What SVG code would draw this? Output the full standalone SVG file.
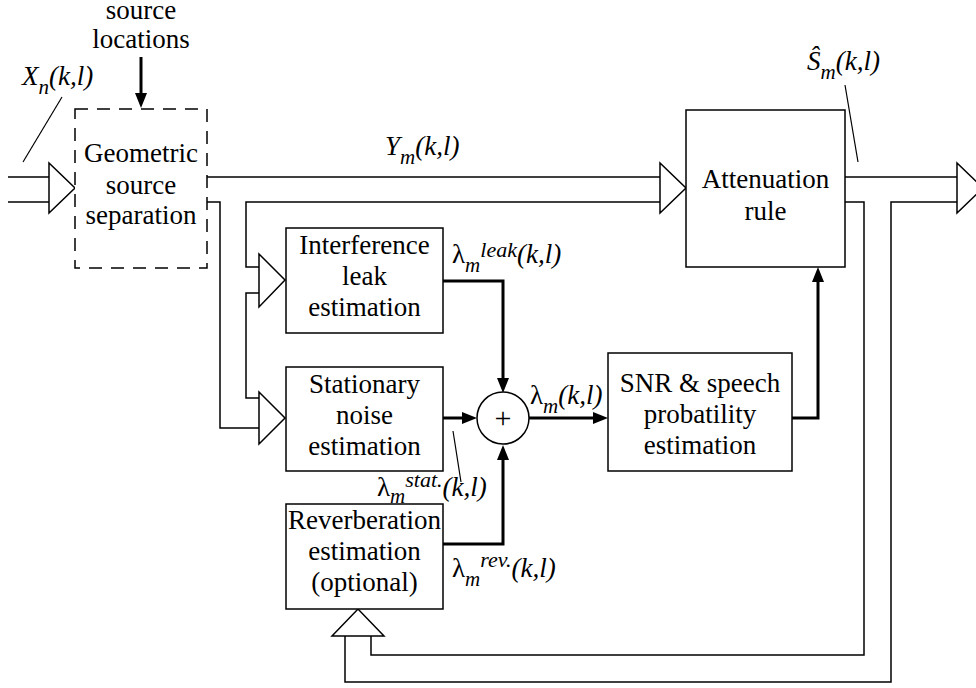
<svg xmlns="http://www.w3.org/2000/svg" width="976" height="688" viewBox="0 0 976 688" font-family="Liberation Serif, serif">
<defs>
  <marker id="ah" markerUnits="userSpaceOnUse" markerWidth="15" markerHeight="12" refX="3" refY="6" orient="auto">
    <path d="M0,0 L15,6 L0,12 z" fill="#000"/>
  </marker>
</defs>
<rect width="976" height="688" fill="#fff"/>

<g id="connectors" fill="none" stroke="#000" stroke-width="1.5">
  <path d="M8,177 H49 M8,202 H49"/>
  <path d="M207,177 H660"/>
  <path d="M207,202 H220 V428 H259"/>
  <path d="M660,202 H246 V267 H259"/>
  <path d="M259,293 H246 V398 H259"/>
  <path d="M845,177 H957"/>
  <path d="M845,202 H864 V655 H371 V636"/>
  <path d="M957,202 H891 V682 H345 V636"/>
  <g fill="#fff">
    <polygon points="49,163 49,213 75,188"/>
    <polygon points="259,254 259,307 285,280"/>
    <polygon points="259,392 259,444 285,418"/>
    <polygon points="660,163 660,213 686,188"/>
    <polygon points="957,163 957,213 983,188"/>
    <polygon points="332,636 384,636 358,609"/>
  </g>
  <g stroke-width="3">
    <path d="M141,57 V96" marker-end="url(#ah)"/>
    <path d="M443,281 H503 V381" marker-end="url(#ah)"/>
    <path d="M443,418 H465" marker-end="url(#ah)"/>
    <path d="M443,544 H503 V457" marker-end="url(#ah)"/>
    <path d="M529,418 H596" marker-end="url(#ah)"/>
    <path d="M792,418 H818 V279" marker-end="url(#ah)"/>
  </g>
  <g stroke-width="1.2">
    <path d="M62,97 L23,162"/>
    <path d="M845,85 L858,162"/>
    <path d="M453,431 L461,482"/>
  </g>
</g>

<g id="labels">
  <text x="141" y="19" font-size="27" font-family="Liberation Serif" text-anchor="middle">source</text>
  <text x="141" y="48" font-size="27" font-family="Liberation Serif" text-anchor="middle">locations</text>
  <text x="22" y="85" font-size="27" font-family="Liberation Serif" font-style="italic">X<tspan font-size="21" dy="9">n</tspan><tspan dy="-9">(k,l)</tspan></text>
  <text x="385" y="155" font-size="27" font-family="Liberation Serif" font-style="italic">Y<tspan font-size="21" dy="9">m</tspan><tspan dy="-9">(k,l)</tspan></text>
  <text x="807" y="70" font-size="27" font-family="Liberation Serif" font-style="italic">Ŝ<tspan font-size="21" dy="9">m</tspan><tspan dy="-9">(k,l)</tspan></text>
  <text x="452" y="263" font-size="27" font-family="Liberation Serif">λ<tspan font-size="21" font-style="italic" dy="9">m</tspan><tspan font-size="22" font-style="italic" dy="-15">leak</tspan><tspan font-style="italic" dy="6">(k,l)</tspan></text>
  <text x="377" y="496" font-size="27" font-family="Liberation Serif">λ<tspan font-size="21" font-style="italic" dy="7">m</tspan><tspan font-size="22" font-style="italic" dy="-16">stat.</tspan><tspan font-style="italic" dy="9">(k,l)</tspan></text>
  <text x="452" y="577" font-size="27" font-family="Liberation Serif">λ<tspan font-size="21" font-style="italic" dy="9">m</tspan><tspan font-size="22" font-style="italic" dy="-19">rev.</tspan><tspan font-style="italic" dy="10">(k,l)</tspan></text>
  <text x="530" y="404" font-size="27" font-family="Liberation Serif">λ<tspan font-size="21" font-style="italic" dy="9">m</tspan><tspan font-style="italic" dy="-9">(k,l)</tspan></text>
</g>

<g id="geometric-source-separation">
  <rect x="75" y="109" width="132" height="159" fill="#fff" stroke="#000" stroke-width="1.5" stroke-dasharray="13 9"/>
  <text x="141" y="162" font-size="27" font-family="Liberation Serif" text-anchor="middle">Geometric</text>
  <text x="141" y="194" font-size="27" font-family="Liberation Serif" text-anchor="middle">source</text>
  <text x="141" y="224" font-size="27" font-family="Liberation Serif" text-anchor="middle">separation</text>
</g>

<g id="interference-leak-estimation">
  <rect x="286" y="228" width="157" height="105" fill="#fff" stroke="#000" stroke-width="1.5"/>
  <text x="364.5" y="254" font-size="27" font-family="Liberation Serif" text-anchor="middle">Interference</text>
  <text x="364.5" y="285" font-size="27" font-family="Liberation Serif" text-anchor="middle">leak</text>
  <text x="364.5" y="316" font-size="27" font-family="Liberation Serif" text-anchor="middle">estimation</text>
</g>

<g id="stationary-noise-estimation">
  <rect x="286" y="367" width="157" height="104" fill="#fff" stroke="#000" stroke-width="1.5"/>
  <text x="364.5" y="393" font-size="27" font-family="Liberation Serif" text-anchor="middle">Stationary</text>
  <text x="364.5" y="424" font-size="27" font-family="Liberation Serif" text-anchor="middle">noise</text>
  <text x="364.5" y="455" font-size="27" font-family="Liberation Serif" text-anchor="middle">estimation</text>
</g>

<g id="reverberation-estimation">
  <rect x="286" y="504" width="157" height="105" fill="#fff" stroke="#000" stroke-width="1.5"/>
  <text x="364.5" y="529" font-size="27" font-family="Liberation Serif" text-anchor="middle">Reverberation</text>
  <text x="364.5" y="560" font-size="27" font-family="Liberation Serif" text-anchor="middle">estimation</text>
  <text x="364.5" y="591" font-size="27" font-family="Liberation Serif" text-anchor="middle">(optional)</text>
</g>

<g id="sum">
  <circle cx="503" cy="418" r="26" fill="#fff" stroke="#000" stroke-width="1.5"/>
  <text x="503" y="428" font-size="30" font-family="Liberation Serif" text-anchor="middle">+</text>
</g>

<g id="snr-speech-probability-estimation">
  <rect x="608" y="353" width="184" height="118" fill="#fff" stroke="#000" stroke-width="1.5"/>
  <text x="700" y="392" font-size="27" font-family="Liberation Serif" text-anchor="middle">SNR &amp; speech</text>
  <text x="700" y="423" font-size="27" font-family="Liberation Serif" text-anchor="middle">probatility</text>
  <text x="700" y="454" font-size="27" font-family="Liberation Serif" text-anchor="middle">estimation</text>
</g>

<g id="attenuation-rule">
  <rect x="686" y="110" width="159" height="157" fill="#fff" stroke="#000" stroke-width="1.5"/>
  <text x="765.5" y="188" font-size="27" font-family="Liberation Serif" text-anchor="middle">Attenuation</text>
  <text x="765.5" y="220" font-size="27" font-family="Liberation Serif" text-anchor="middle">rule</text>
</g>
</svg>
